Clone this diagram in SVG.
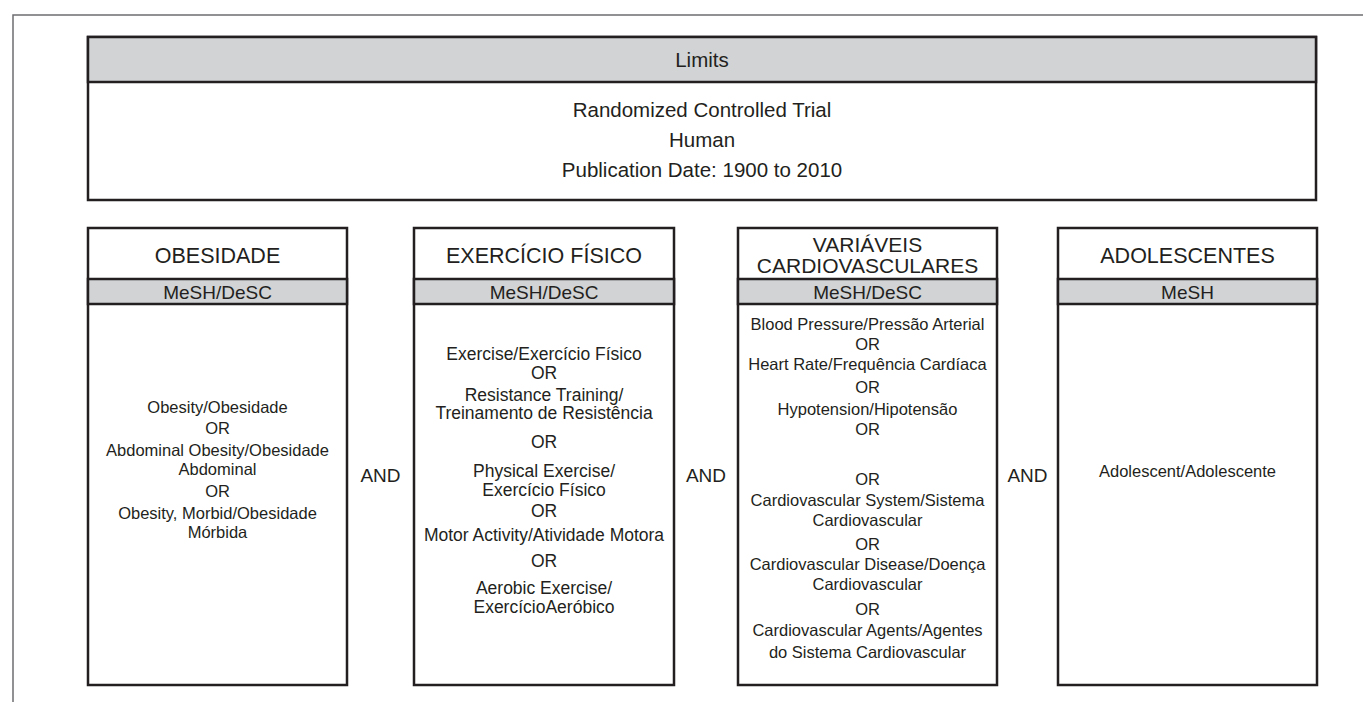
<svg xmlns="http://www.w3.org/2000/svg" width="1363" height="702" viewBox="0 0 1363 702">
<style>
.frame{fill:none;stroke:#6d6e71;stroke-width:1.5}
.box{fill:#ffffff;stroke:#231f20;stroke-width:2.5}
.band{fill:#d1d3d4;stroke:#231f20;stroke-width:2.5}
text{font-family:"Liberation Sans",Arial,sans-serif;fill:#231f20;text-anchor:middle}
.title{font-size:21.5px}
.title2{font-size:21px}
.lim{font-size:20.5px}
.mesh{font-size:19px}
.body{font-size:16.5px}
.body2{font-size:17.5px}
.and{font-size:19px}
</style>
<rect width="1363" height="702" fill="#ffffff"/>
<path class="frame" d="M13,702 V15 H1363"/>

<g id="limits">
<rect class="box" x="88" y="37" width="1228" height="163"/>
<rect class="band" x="88" y="37" width="1228" height="45"/>
<text class="lim" x="702" y="67">Limits</text>
<text class="lim" x="702" y="117">Randomized Controlled Trial</text>
<text class="lim" x="702" y="147">Human</text>
<text class="lim" x="702" y="177">Publication Date: 1900 to 2010</text>
</g>

<g id="obesidade">
<rect class="box" x="88" y="228" width="259" height="457"/>
<rect class="band" x="88" y="279" width="259" height="25"/>
<text class="title" x="217.5" y="263">OBESIDADE</text>
<text class="mesh" x="217.5" y="299">MeSH/DeSC</text>
<text class="body" x="217.5" y="413">Obesity/Obesidade</text>
<text class="body" x="217.5" y="434">OR</text>
<text class="body" x="217.5" y="456">Abdominal Obesity/Obesidade</text>
<text class="body" x="217.5" y="475">Abdominal</text>
<text class="body" x="217.5" y="497">OR</text>
<text class="body" x="217.5" y="519">Obesity, Morbid/Obesidade</text>
<text class="body" x="217.5" y="538">Mórbida</text>
</g>

<g id="exercicio">
<rect class="box" x="414" y="228" width="260" height="457"/>
<rect class="band" x="414" y="279" width="260" height="25"/>
<text class="title" x="544" y="263">EXERCÍCIO FÍSICO</text>
<text class="mesh" x="544" y="299">MeSH/DeSC</text>
<text class="body2" x="544" y="360">Exercise/Exercício Físico</text>
<text class="body2" x="544" y="379">OR</text>
<text class="body2" x="544" y="401">Resistance Training/</text>
<text class="body2" x="544" y="419">Treinamento de Resistência</text>
<text class="body2" x="544" y="448">OR</text>
<text class="body2" x="544" y="477">Physical Exercise/</text>
<text class="body2" x="544" y="496">Exercício Físico</text>
<text class="body2" x="544" y="517">OR</text>
<text class="body2" x="544" y="541">Motor Activity/Atividade Motora</text>
<text class="body2" x="544" y="567">OR</text>
<text class="body2" x="544" y="594">Aerobic Exercise/</text>
<text class="body2" x="544" y="613">ExercícioAeróbico</text>
</g>

<g id="cardiovasculares">
<rect class="box" x="738" y="228" width="259" height="457"/>
<rect class="band" x="738" y="279" width="259" height="25"/>
<text class="title2" x="867.5" y="252">VARIÁVEIS</text>
<text class="title2" x="867.5" y="273">CARDIOVASCULARES</text>
<text class="mesh" x="867.5" y="299">MeSH/DeSC</text>
<text class="body" x="867.5" y="330">Blood Pressure/Pressão Arterial</text>
<text class="body" x="867.5" y="350">OR</text>
<text class="body" x="867.5" y="370">Heart Rate/Frequência Cardíaca</text>
<text class="body" x="867.5" y="393">OR</text>
<text class="body" x="867.5" y="415">Hypotension/Hipotensão</text>
<text class="body" x="867.5" y="435">OR</text>
<text class="body" x="867.5" y="485">OR</text>
<text class="body" x="867.5" y="506">Cardiovascular System/Sistema</text>
<text class="body" x="867.5" y="526">Cardiovascular</text>
<text class="body" x="867.5" y="550">OR</text>
<text class="body" x="867.5" y="570">Cardiovascular Disease/Doença</text>
<text class="body" x="867.5" y="590">Cardiovascular</text>
<text class="body" x="867.5" y="615">OR</text>
<text class="body" x="867.5" y="636">Cardiovascular Agents/Agentes</text>
<text class="body" x="867.5" y="658">do Sistema Cardiovascular</text>
</g>

<g id="adolescentes">
<rect class="box" x="1058" y="228" width="259" height="457"/>
<rect class="band" x="1058" y="279" width="259" height="25"/>
<text class="title" x="1187.5" y="263">ADOLESCENTES</text>
<text class="mesh" x="1187.5" y="299">MeSH</text>
<text class="body" x="1187.5" y="477">Adolescent/Adolescente</text>
</g>

<g id="connectors">
<text class="and" x="380.5" y="482">AND</text>
<text class="and" x="706" y="482">AND</text>
<text class="and" x="1027.5" y="482">AND</text>
</g>
</svg>
